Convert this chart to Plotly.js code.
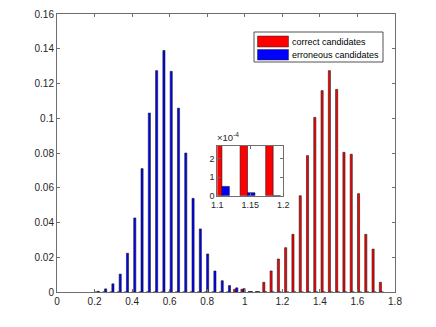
<!DOCTYPE html>
<html>
<head>
<meta charset="utf-8">
<script src="https://cdn.plot.ly/plotly-3.0.1.min.js"></script>
<style>
  html, body { margin: 0; padding: 0; background: #fff; }
  #plot { width: 436px; height: 327px; }
</style>
</head>
<body>
<div id="plot"></div>
<script>
// bin centres
var binCenters = [0.2146, 0.2534, 0.2922, 0.3310, 0.3698, 0.4086, 0.4474, 0.4862,
    0.5250, 0.5638, 0.6026, 0.6414, 0.6802, 0.7190, 0.7578, 0.7966, 0.8354, 0.8742,
    0.9130, 0.9518, 0.9906, 1.0294, 1.0682, 1.1070, 1.1458, 1.1846, 1.2234, 1.2622,
    1.3010, 1.3398, 1.3786, 1.4174, 1.4562, 1.4950, 1.5338, 1.5726, 1.6114, 1.6502,
    1.6890, 1.7278];

// correct candidates (red)
var correctVals = [0, 0, 0, 0, 0, 0, 0, 0,
    0, 0, 0, 0, 0, 0, 0, 0, 0, 0,
    0, 0.0016, 0.0016, 0.0003, 0.0003, 0.0056, 0.0121, 0.0190, 0.0255, 0.0332,
    0.0554, 0.0785, 0.1005, 0.1159, 0.1274, 0.1166, 0.0804, 0.0793, 0.0566, 0.0332,
    0.0247, 0.0056];

// erroneous candidates (blue)
var erroneousVals = [0.0004, 0.0018, 0.0047, 0.0103, 0.0223, 0.0426, 0.0710, 0.1030,
    0.1274, 0.1390, 0.1270, 0.1058, 0.0800, 0.0539, 0.0363, 0.0219, 0.0121, 0.0065,
    0.0037, 0.0024, 0.0019, 0.0003, 0.0002, 0.00005, 0.000016, 0, 0, 0,
    0, 0, 0, 0, 0, 0, 0, 0, 0, 0,
    0, 0];

var legendNames = ['correct candidates', 'erroneous candidates'];
var barColors = ['#ff0000', '#0000ff'];

var mainXTicks = [0, 0.2, 0.4, 0.6, 0.8, 1, 1.2, 1.4, 1.6, 1.8];
var mainYTicks = [0, 0.02, 0.04, 0.06, 0.08, 0.1, 0.12, 0.14, 0.16];
var insetXTicks = [1.1, 1.15, 1.2];
var insetYTicks = [0, 1e-4, 2e-4];
var insetYLabels = ['0', '1', '2'];

var font = {family: '"Liberation Sans", Arial, sans-serif', size: 10, color: '#262626'};

function barTrace(i, vals, xa, ya) {
    return {
        type: 'bar',
        x: binCenters,
        y: vals,
        xaxis: xa,
        yaxis: ya,
        name: legendNames[i],
        showlegend: false,
        marker: {color: barColors[i], line: {color: '#1a1a1a', width: 0.6}},
        hoverinfo: 'skip'
    };
}

var data = [
    barTrace(0, correctVals, 'x', 'y'),
    barTrace(1, erroneousVals, 'x', 'y'),
    barTrace(0, correctVals, 'x2', 'y2'),
    barTrace(1, erroneousVals, 'x2', 'y2')
];

var axisStyle = {
    showline: true, mirror: 'ticks', linecolor: '#6e6e6e', linewidth: 1,
    ticks: 'inside', ticklen: 3, tickcolor: '#6e6e6e', tickwidth: 1,
    showgrid: false, zeroline: false
};

// plot area in pixels: x 57..395, y 14..292
function px(x) { return (x - 57) / 338; }
function py(y) { return (292 - y) / 278; }

var layout = Object.assign({
    width: 436,
    height: 327,
    margin: {l: 57, r: 41, t: 14, b: 35},
    paper_bgcolor: '#ffffff',
    plot_bgcolor: '#ffffff',
    font: font,
    barmode: 'group',
    bargap: 0.42,
    bargroupgap: 0,
    showlegend: false,
    xaxis: Object.assign({range: [0, 1.8], tickvals: mainXTicks, ticktext: mainXTicks.map(String),
        domain: [0, 1], anchor: 'y'}, axisStyle),
    yaxis: Object.assign({range: [0, 0.16], tickvals: mainYTicks, ticktext: mainYTicks.map(String),
        domain: [0, 1], anchor: 'x'}, axisStyle),
    xaxis2: Object.assign({range: [1.1, 1.2], tickvals: insetXTicks, ticktext: ['1.1', '1.15', '1.2'],
        domain: [px(217.3), px(283.3)], anchor: 'y2', tickfont: {size: 9}}, axisStyle),
    yaxis2: Object.assign({range: [0, 2.7e-4], tickvals: insetYTicks, ticktext: insetYLabels,
        domain: [py(195.7), py(145.7)], anchor: 'x2', tickfont: {size: 9}}, axisStyle)
});

// inset background + legend drawn as paper shapes
layout.shapes = [
    {type: 'rect', xref: 'paper', yref: 'paper', x0: px(217.3), x1: px(283.3), y0: py(195.7), y1: py(145.7),
     fillcolor: '#ffffff', line: {width: 0}, layer: 'below'},
    {type: 'rect', xref: 'paper', yref: 'paper', x0: px(254), x1: px(383), y0: py(62), y1: py(32),
     fillcolor: '#ffffff', line: {color: '#262626', width: 0.8}},
    {type: 'rect', xref: 'paper', yref: 'paper', x0: px(257.5), x1: px(288.5), y0: py(47), y1: py(36),
     fillcolor: barColors[0], line: {color: '#262626', width: 0.5}},
    {type: 'rect', xref: 'paper', yref: 'paper', x0: px(257.5), x1: px(288.5), y0: py(60), y1: py(49.5),
     fillcolor: barColors[1], line: {color: '#262626', width: 0.5}}
];

layout.annotations = [
    {xref: 'paper', yref: 'paper', x: px(290), y: py(41.5), xanchor: 'left', yanchor: 'middle',
     text: legendNames[0], showarrow: false, font: {size: 9, color: '#000'}},
    {xref: 'paper', yref: 'paper', x: px(290), y: py(55), xanchor: 'left', yanchor: 'middle',
     text: legendNames[1], showarrow: false, font: {size: 9, color: '#000'}},
    {xref: 'paper', yref: 'paper', x: px(215), y: py(145), xanchor: 'left', yanchor: 'bottom',
     text: '\u00d710<sup>-4</sup>', showarrow: false, font: {size: 9.5, color: '#262626'}}
];

Plotly.newPlot('plot', data, layout, {staticPlot: true});
</script>
</body>
</html>
